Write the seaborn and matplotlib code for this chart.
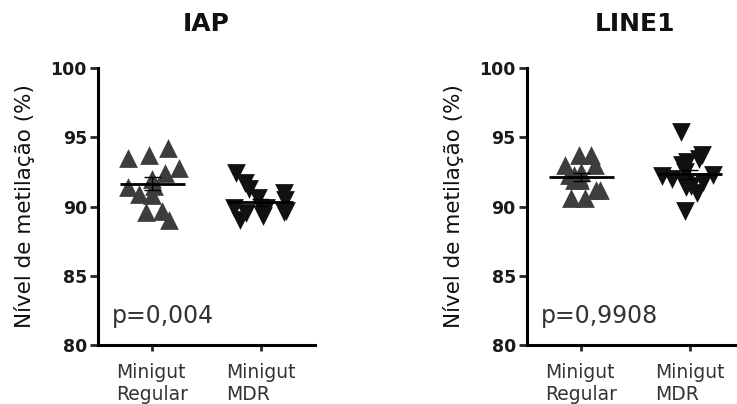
import numpy as np
import pandas as pd
import matplotlib
matplotlib.use("Agg")
import matplotlib.pyplot as plt
import seaborn as sns

# ---- data ----
groups = ["Minigut\nRegular", "Minigut\nMDR"]
titles = ["IAP", "LINE1"]
p_labels = ["p=0,004", "p=0,9908"]

iap_regular = [93.5, 94.2, 93.7, 92.4, 92.8, 91.5, 92.0, 91.4, 90.9, 90.8, 89.7, 89.0, 89.6]
iap_mdr = [92.4, 91.3, 91.0, 91.7, 90.6, 90.5, 89.9, 89.9, 89.7, 89.5, 89.3, 89.6, 89.0, 89.8]
line1_regular = [93.0, 93.7, 93.7, 93.0, 92.5, 92.3, 91.9, 91.9, 91.2, 91.2, 90.6, 90.6, 92.3, 92.1]
line1_mdr = [95.4, 93.4, 93.0, 93.2, 93.7, 92.5, 92.3, 92.0, 91.8, 91.6, 91.4, 91.0, 91.5, 89.7, 92.2]

yticks = [80, 85, 90, 95, 100]

sns.set_style("ticks")
plt.rcParams["font.family"] = ["DejaVu Sans"]

fig = plt.figure(figsize=(7.37, 4.04), dpi=100)
ax_pos = [[0.133, 0.146, 0.2944, 0.6856], [0.715, 0.146, 0.2944, 0.6856]]

datasets = [(iap_regular, iap_mdr), (line1_regular, line1_mdr)]
colors = ["#3d3d3d", "#111111"]
markers = ["^", "v"]

np.random.seed(7)  # reproducible horizontal jitter only
for k, (pos, (reg, mdr)) in enumerate(zip(ax_pos, datasets)):
    ax = fig.add_axes(pos)
    df = pd.DataFrame({
        "group": [groups[0]] * len(reg) + [groups[1]] * len(mdr),
        "val": list(reg) + list(mdr),
    })
    for i, g in enumerate(groups):
        sns.stripplot(data=df[df.group == g], x="group", y="val", order=groups,
                      marker=markers[i], color=colors[i], size=13.5, linewidth=0,
                      jitter=0.26, ax=ax, zorder=2)

    # mean and SEM
    for i, vals in enumerate([reg, mdr]):
        v = np.asarray(vals)
        m = v.mean()
        se = v.std(ddof=1) / np.sqrt(len(v))
        ax.hlines(m, i - 0.3, i + 0.3, color="black", lw=2, zorder=4)
        ax.vlines(i, m - se, m + se, color="black", lw=1, zorder=4)
        ax.hlines([m - se, m + se], i - 0.08, i + 0.08, color="black", lw=1, zorder=4)

    ax.set_xlim(-0.5, 1.5)
    ax.set_ylim(80, 100)
    ax.set_yticks(yticks)
    ax.set_yticklabels([str(t) for t in yticks], fontsize=12.5, fontweight="bold", color="#1a1a1a")
    ax.set_xticks([0, 1])
    ax.set_xticklabels(groups, fontsize=13.5, color="#333333", multialignment="left",
                       linespacing=1.2)
    ax.tick_params(axis="y", length=6, width=2, direction="out", pad=2)
    ax.tick_params(axis="x", length=4, width=2, direction="out", pad=9)
    for s in ["left", "bottom"]:
        ax.spines[s].set_linewidth(2.2)
        ax.spines[s].set_color("black")
    for s in ["top", "right"]:
        ax.spines[s].set_visible(False)
    ax.set_xlabel("")
    ax.set_ylabel("Nível de metilação (%)", fontsize=15.5, color="#111111", fontweight="medium")
    ax.yaxis.set_label_coords(-0.29, 0.5)
    ax.set_title(titles[k], fontsize=18, fontweight="bold", pad=27, color="#111111")
    ax.text(0.065, 81.6, p_labels[k], transform=ax.get_yaxis_transform().__class__(ax.transAxes, ax.transData),
            fontsize=17, color="#333333", ha="left", va="baseline")

fig.savefig("out.png", dpi=100)
